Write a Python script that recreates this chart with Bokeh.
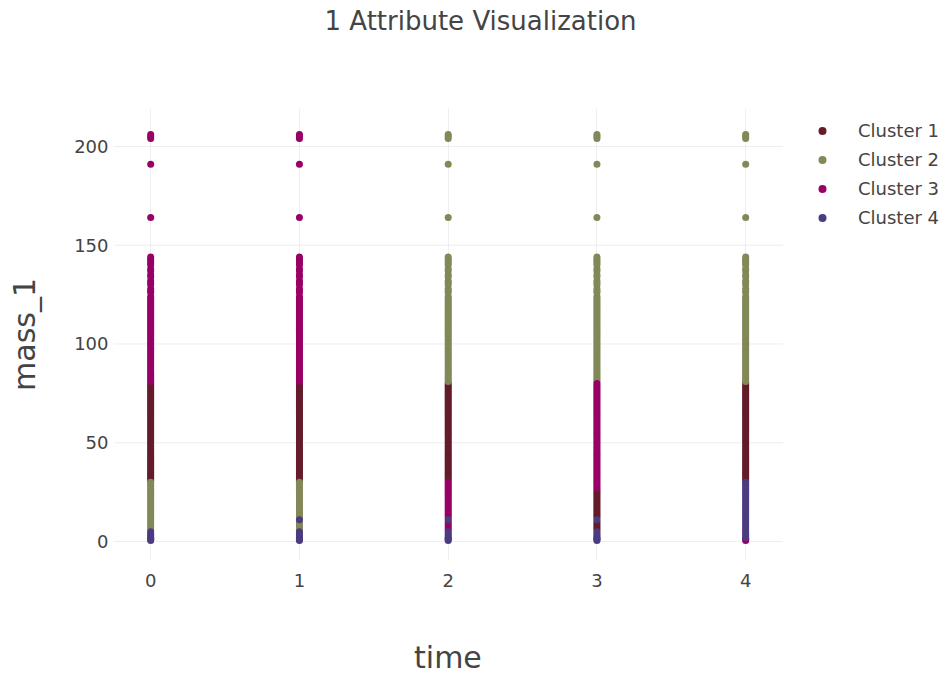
from bokeh.plotting import figure
from bokeh.models import Range1d, FixedTicker, ColumnDataSource, Title
from bokeh.embed import file_html
from bokeh.resources import INLINE

# ---- data ----
times = [0, 1, 2, 3, 4]
y_ticks = [0, 50, 100, 150, 200]
cluster_names = ["Cluster 1", "Cluster 2", "Cluster 3", "Cluster 4"]
cluster_colors = ["#641c2a", "#838858", "#990066", "#4b3b80"]

# mass_1 values (same set of objects at every time step), high to low
outlier_masses = [206, 205, 204, 191, 164]
upper_masses = [144, 143, 142, 141, 140, 138, 137, 135, 134, 132, 131, 130,
                128, 127, 126, 124, 123, 122, 121, 120, 119, 118, 117, 116,
                115, 114, 113, 112, 111, 110, 109, 108, 107, 106, 105, 104,
                103, 102, 101, 100, 99, 98, 97, 96, 95, 94, 93, 92, 91, 90,
                89, 88, 87, 86, 85, 84, 83, 82, 81]
mid_masses = [80, 79, 78, 77, 76, 75, 74, 73, 72, 71, 70, 69, 68, 67, 66, 65,
              64, 63, 62, 61, 60, 59, 58, 57, 56, 55, 54, 53, 52, 51, 50, 49,
              48, 47, 46, 45, 44, 43, 42, 41, 40, 39, 38, 37, 36, 35, 34, 33,
              32, 31]
low_masses = [30, 29, 28, 27, 26, 25, 24, 23, 22, 21, 20, 19, 18, 17, 16, 15,
              14, 13, 12, 11, 10, 9, 8]
bottom_masses = [7, 6, 5, 4, 3, 2, 1.5, 1, 0.5]
masses = outlier_masses + upper_masses + mid_masses + low_masses + bottom_masses

# cluster label (1..4) of each mass value, one string per time step
labels_t0 = "3" * 64 + "1" * 50 + "2" * 23 + "22" + "4444444"
labels_t1 = "3" * 64 + "1" * 50 + "2" * 19 + "4" + "222" + "22" + "4444444"
labels_t2 = "2" * 64 + "1" * 50 + "3" * 19 + "4" + "333" + "33" + "4444444"
labels_t3 = "2" * 64 + "3" * 54 + "1" * 15 + "4" + "111" + "11" + "4444444"
labels_t4 = "2" * 64 + "1" * 50 + "4" * 23 + "44" + "3" + "444" + "333"
labels_by_time = [labels_t0, labels_t1, labels_t2, labels_t3, labels_t4]

FONT = "DejaVu Sans"
TXT = "#444444"

# ---- layout (pixels) ----
W, H = 946, 678
LEFT, RIGHT, TOP, BOTTOM = 113, 2, 108, 118
PX_PER_UNIT = 148.75          # horizontal scale of the plotting area
X_LO, X_HI = -0.25, 4.25      # extent of the visible axis / grid
frame_w = W - LEFT - RIGHT
x_end = X_LO + frame_w / PX_PER_UNIT   # extra room on the right for the legend

p = figure(width=W, height=H, output_backend="svg", toolbar_location=None,
           x_range=Range1d(X_LO, x_end), y_range=Range1d(-9.6, 219.2),
           min_border_left=LEFT, min_border_right=RIGHT,
           min_border_top=TOP, min_border_bottom=BOTTOM,
           title="1 Attribute Visualization")

# horizontal grid lines only across the axis extent
p.segment(x0=[X_LO] * len(y_ticks), x1=[X_HI] * len(y_ticks),
          y0=y_ticks, y1=y_ticks, line_color="#eeeeee", line_width=1,
          level="underlay")

for ci, (name, color) in enumerate(zip(cluster_names, cluster_colors)):
    xs, ys = [], []
    for t, labs in zip(times, labels_by_time):
        for m, lab in zip(masses, labs):
            if int(lab) == ci + 1:
                xs.append(t)
                ys.append(m)
    src = ColumnDataSource(dict(x=xs, y=ys))
    p.scatter("x", "y", source=src, size=7, fill_color=color, line_color=None,
              legend_label=name)

p.title.align = "left"
p.title.offset = 211
p.title.vertical_align = "bottom"
p.title.standoff = 0
p.title.text_font = FONT
p.title.text_font_size = "26px"
p.title.text_font_style = "normal"
p.title.text_color = TXT
# blank spacer between the title and the plot area
p.add_layout(Title(text=" ", text_font_size="1px", standoff=70), "above")

p.xaxis.ticker = FixedTicker(ticks=times)
p.xaxis.bounds = (X_LO, X_HI)
p.yaxis.ticker = FixedTicker(ticks=y_ticks)
# trailing no-break spaces keep "time" centred under the axis extent
# (the plotting area is wider to host the legend)
p.xaxis.axis_label = "time" + "\u00a0" * 17
p.yaxis.axis_label = "mass_1"
for ax in (p.xaxis, p.yaxis):
    ax.axis_line_color = None
    ax.major_tick_line_color = None
    ax.minor_tick_line_color = None
    ax.major_tick_out = 0
    ax.major_tick_in = 0
    ax.major_label_text_font = FONT
    ax.major_label_text_font_size = "18px"
    ax.major_label_text_color = TXT
    ax.axis_label_text_font = FONT
    ax.axis_label_text_font_size = "30px"
    ax.axis_label_text_font_style = "normal"
    ax.axis_label_text_color = TXT
p.yaxis.major_label_standoff = 5
p.yaxis.axis_label_standoff = 29
p.xaxis.major_label_standoff = 13
p.xaxis.axis_label_standoff = 50

p.xgrid.grid_line_color = "#eeeeee"
p.xgrid.grid_line_width = 1
p.ygrid.grid_line_color = None
p.outline_line_color = None

leg = p.legend[0]
leg.location = (699, 328)
leg.background_fill_alpha = 0
leg.border_line_color = None
leg.padding = 0
leg.margin = 0
leg.spacing = 0
leg.glyph_width = 20
leg.glyph_height = 29
leg.label_height = 29
leg.label_standoff = 26
leg.label_text_font = FONT
leg.label_text_font_size = "18px"
leg.label_text_color = TXT

open("out.html", "w").write(file_html(p, INLINE))
